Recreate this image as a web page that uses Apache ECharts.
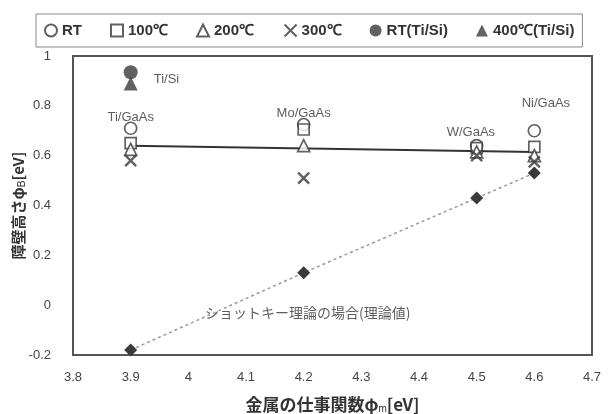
<!DOCTYPE html>
<html><head><meta charset="utf-8">
<script src="https://cdn.jsdelivr.net/npm/echarts@6/dist/echarts.min.js"></script>
<style>html,body{margin:0;padding:0;background:#fff}#c{width:615px;height:414px}</style>
</head><body><div id="c"></div>
<script>
const workFunction = [3.9, 4.2, 4.5, 4.6];
const rtGaAs   = [0.71, 0.725, 0.64, 0.70];
const c100GaAs = [0.65, 0.705, 0.63, 0.635];
const c200GaAs = [0.625, 0.64, 0.615, 0.60];
const c300GaAs = [0.58, 0.51, 0.60, 0.575];
const tiSiX = [3.9];
const rtTiSi = [0.935];
const c400TiSi = [0.89];
const theory = [-0.18, 0.13, 0.43, 0.53];
const fitX = [3.9, 4.6];
const fitY = [0.64, 0.615];
const legendNames = ['RT', '100℃', '200℃', '300℃', 'RT(Ti/Si)', '400℃(Ti/Si)'];
const xTicks = { min: 3.8, max: 4.7, interval: 0.1 };
const yTicks = { min: -0.2, max: 1, interval: 0.2 };
const noteX = [3.94, 3.9, 4.2, 4.49, 4.62, 4.207];
const noteY = [0.905, 0.755, 0.77, 0.695, 0.81, -0.03];
const noteText = ['Ti/Si', 'Ti/GaAs', 'Mo/GaAs', 'W/GaAs', 'Ni/GaAs', 'ショットキー理論の場合(理論値)'];
const noteAlign = ['left', 'center', 'center', 'center', 'center', 'center'];

const pts = (xs, ys) => xs.map((x, i) => [x, ys[i]]);
const dark = '#3a3a3a';
const openStyle = { color: '#fff', borderColor: dark, borderWidth: 1.7 };
const crossPath = 'path://M0,0L10,10M10,0L0,10';
const cjk = '"Noto Sans CJK JP", sans-serif';
const lat = '"Liberation Sans", Arial, sans-serif';

const chart = echarts.init(document.getElementById('c'));
chart.setOption({
  animation: false,
  backgroundColor: '#fff',
  grid: { left: 73, right: 23, top: 56, bottom: 59, containLabel: false, outerBoundsMode: 'none',
    show: true, borderColor: '#555', borderWidth: 2, backgroundColor: '#fff' },
  legend: {
    data: legendNames, left: 36, top: 14,
    borderColor: '#888', borderWidth: 1, padding: [8, 8],
    itemGap: 28, itemWidth: 12, itemHeight: 12,
    textStyle: { fontFamily: lat, fontSize: 15, color: '#333', fontWeight: 'bold', padding: [0, 0, 0, 0] }
  },
  xAxis: {
    type: 'value', min: xTicks.min, max: xTicks.max, interval: xTicks.interval,
    axisLine: { show: false }, axisTick: { show: false }, splitLine: { show: false },
    axisLabel: { fontFamily: lat, fontSize: 13, color: '#444', margin: 16, formatter: v => String(Math.round(v * 10) / 10) },
    name: '{a|金属の仕事関数φ}{s|m}{a|[eV]}', nameLocation: 'middle', nameGap: 40, nameMoveOverlap: false,
    nameTextStyle: { rich: { a: { fontFamily: cjk, fontSize: 17, fontWeight: 'bold', color: '#333' }, s: { fontFamily: lat, fontSize: 10, color: '#333', padding: [9, 0, 0, 0] } } }
  },
  yAxis: {
    type: 'value', min: yTicks.min, max: yTicks.max, interval: yTicks.interval,
    axisLine: { show: false }, axisTick: { show: false }, splitLine: { show: false },
    axisLabel: { fontFamily: lat, fontSize: 13, color: '#444', margin: 22, formatter: v => String(Math.round(v * 10) / 10) },
    name: '{a|障壁高さφ}{s|B}{a|[eV]}', nameLocation: 'middle', nameGap: 46, nameMoveOverlap: false,
    nameTextStyle: { rich: { a: { fontFamily: cjk, fontSize: 15, fontWeight: 'bold', color: '#333' }, s: { fontFamily: lat, fontSize: 10, color: '#333', padding: [8, 0, 0, 0] } } }
  },
  series: [
    { name: 'fit', type: 'line', data: pts(fitX, fitY), symbol: 'none', lineStyle: { color: '#333', width: 2 }, z: 1 },
    { name: 'theory', type: 'line', data: pts(workFunction, theory), symbol: 'diamond', symbolSize: 13,
      itemStyle: { color: dark }, lineStyle: { color: '#999', width: 1.5, type: [3, 3] }, z: 2 },
    { name: 'RT', type: 'scatter', data: pts(workFunction, rtGaAs), symbol: 'circle', symbolSize: 12, itemStyle: openStyle, z: 3 },
    { name: '100℃', type: 'scatter', data: pts(workFunction, c100GaAs), symbol: 'rect', symbolSize: 11, itemStyle: openStyle, z: 3 },
    { name: '200℃', type: 'scatter', data: pts(workFunction, c200GaAs), symbol: 'triangle', symbolSize: 12, itemStyle: openStyle, z: 3 },
    { name: '300℃', type: 'scatter', data: pts(workFunction, c300GaAs), symbol: crossPath, symbolSize: 11,
      itemStyle: { color: 'none', borderColor: dark, borderWidth: 2.4 }, z: 3 },
    { name: 'RT(Ti/Si)', type: 'scatter', data: pts(tiSiX, rtTiSi), symbol: 'circle', symbolSize: 14, itemStyle: { color: dark }, z: 4 },
    { name: '400℃(Ti/Si)', type: 'scatter', data: pts(tiSiX, c400TiSi), symbol: 'triangle', symbolSize: 14, itemStyle: { color: dark }, z: 4 },
    { name: 'notes', type: 'scatter', symbolSize: 0, silent: true, z: 5,
      data: noteX.map((x, i) => ({ value: [x, noteY[i]], label: { show: true, position: 'inside', formatter: noteText[i], align: noteAlign[i],
        fontFamily: i === 5 ? cjk : lat, fontSize: i === 5 ? 14 : 13, color: '#333' } })) }
  ]
});
</script></body></html>
